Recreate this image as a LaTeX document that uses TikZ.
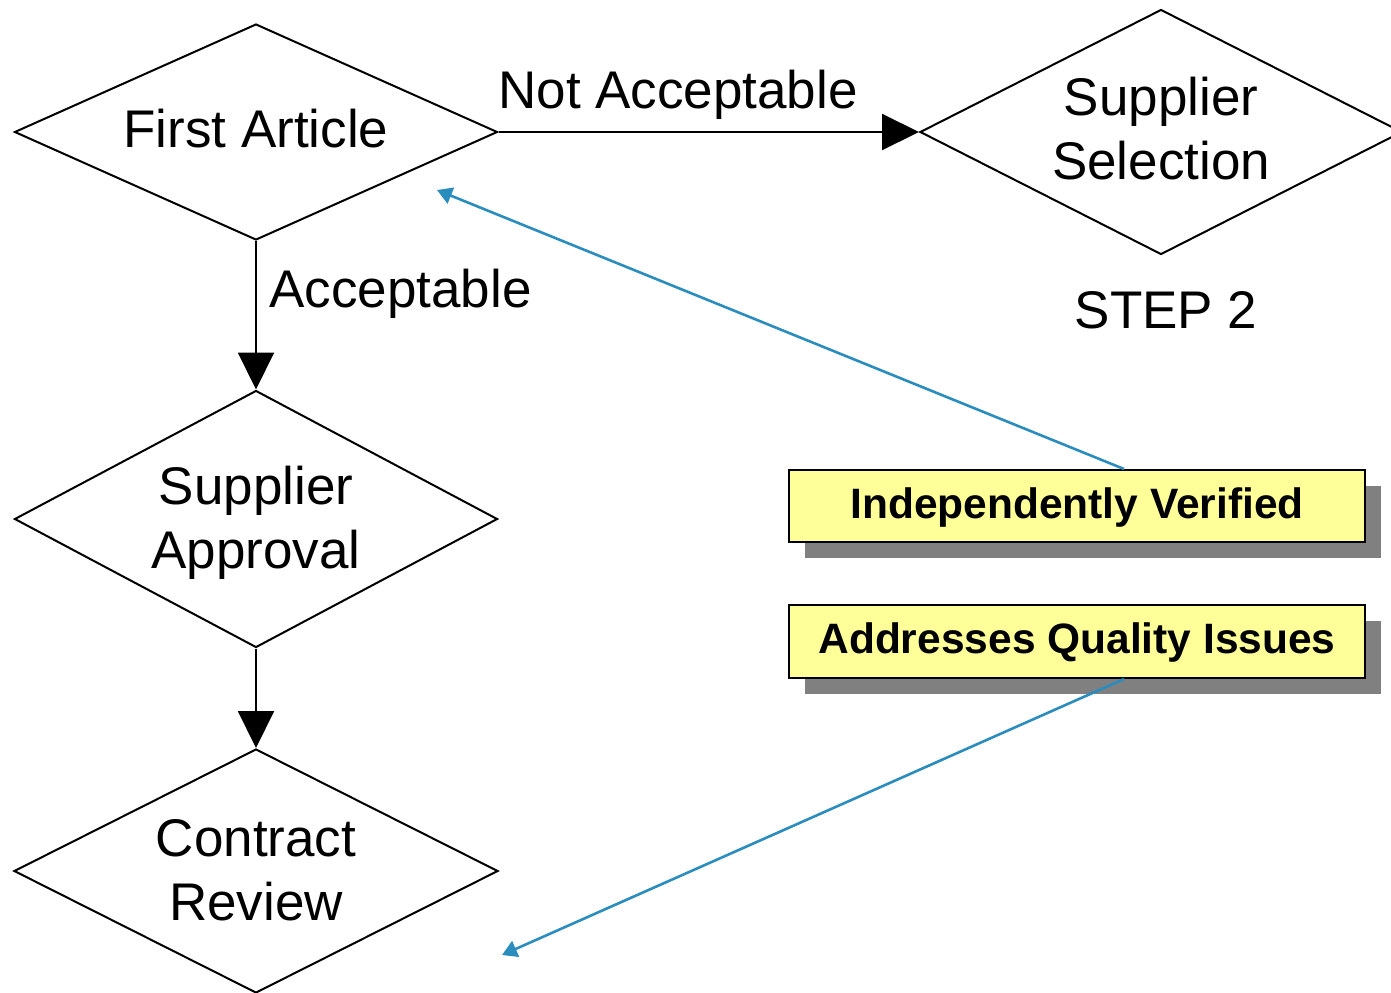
\documentclass[tikz,border=0pt]{standalone}
\usepackage{fontspec}
\setmainfont{Liberation Sans}
\usetikzlibrary{shapes.geometric,arrows.meta,shadows,calc}

\definecolor{notefill}{RGB}{255,255,153}
\definecolor{linkblue}{RGB}{43,140,190}

\tikzset{
  decision/.style={diamond, draw=black, line width=1pt, inner sep=0pt,
    align=center, font=\fontsize{26.5pt}{32pt}\selectfont},
  oneline/.style={text height=19.35pt, text depth=4.35pt},
  twoline/.style={text height=51.35pt, text depth=#1},
  twoline/.default=2.35pt,
  flow/.style={draw=black, line width=1pt,
    -{Triangle[length=18.5pt,width=18pt]}},
  flowlabel/.style={anchor=base, inner sep=0pt,
    font=\fontsize{26.5pt}{32pt}\selectfont},
  note/.style={rectangle, draw=black, line width=1pt, fill=notefill,
    minimum width=288pt, inner sep=0pt,
    text height=15.5pt, text depth=3.5pt,
    font=\fontsize{21.25pt}{25pt}\selectfont\bfseries,
    drop shadow={shadow xshift=8pt, shadow yshift=-8pt,
      fill=black!50, opacity=1}},
  link/.style={draw=linkblue, line width=1.3pt,
    -{Triangle[length=7.5pt,width=8.5pt]}}
}

\begin{document}
\begin{tikzpicture}[x=0.5pt,y=-0.5pt]
  \useasboundingbox (0,0) rectangle (1391,992);

  % decision diamonds
  \node[decision, oneline, shape aspect=2.24,
        minimum width=241.5pt, minimum height=108pt]
        (fa) at (256,132) {First Article};
  \node[decision, twoline, shape aspect=1.88,
        minimum width=241.5pt, minimum height=128.5pt]
        (sa) at (256,519) {Supplier\\Approval};
  \node[decision, twoline, shape aspect=1.98,
        minimum width=242pt, minimum height=122pt]
        (cr) at (256,871) {Contract\\Review};
  \node[decision, twoline=4.35pt, shape aspect=1.97,
        minimum width=241pt, minimum height=122.5pt]
        (ss) at (1161,132) {Supplier\\Selection};

  % flow arrows and their labels
  \draw[flow] (fa.east) -- (ss.west);
  \draw[flow] (fa.south) -- (sa.north);
  \draw[flow] (sa.south) -- (cr.north);
  \node[flowlabel] (na) at (678,108) {Not Acceptable};
  \node[flowlabel] (ac) at (400.5,307) {Acceptable};
  \node[flowlabel] (st) at (1166,328) {STEP 2};

  % callout notes
  \node[note, minimum height=36pt] (iv) at (1077,506) {Independently Verified};
  \node[note, minimum height=36.5pt] (aq) at (1077,641.5) {Addresses Quality Issues};

  % callout pointers
  \coordinate (ivtop) at ([xshift=23.5pt]iv.north);
  \coordinate (aqbot) at ([xshift=23.5pt]aq.south);
  \coordinate (faend) at (437,190);
  \coordinate (crend) at (502,955);
  \draw[link] (ivtop) -- (faend);
  \draw[link] (aqbot) -- (crend);
\end{tikzpicture}
\end{document}
